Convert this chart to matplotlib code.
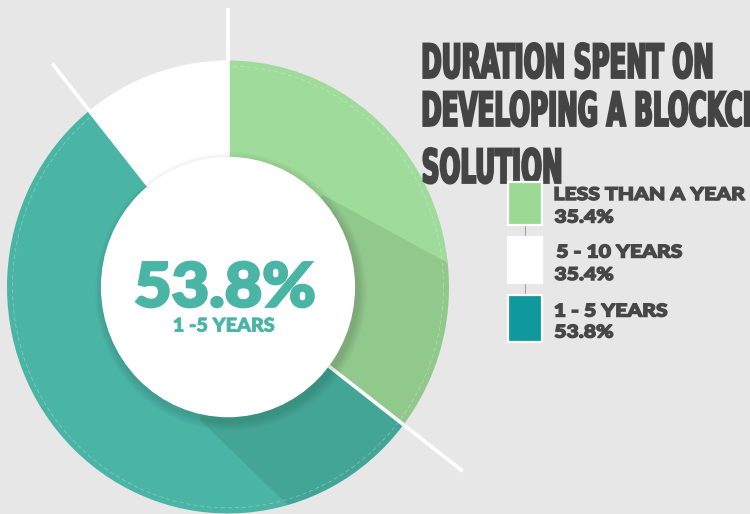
"""Ring chart: how long teams spend building a blockchain solution."""

import matplotlib

matplotlib.use("Agg")
import matplotlib.pyplot as plt
import numpy as np
from matplotlib.font_manager import FontProperties
from matplotlib.patches import Circle, PathPatch, Polygon, Rectangle, Wedge
from matplotlib.textpath import TextPath
from matplotlib.transforms import Affine2D

# ring shares, clockwise from 12 o'clock
segments = ["LESS THAN A YEAR", "1 - 5 YEARS", "5 - 10 YEARS"]
shares = [35.4, 53.8, 10.8]

# legend entries as printed
legend_names = ["LESS THAN A YEAR", "5 - 10 YEARS", "1 - 5 YEARS"]
legend_values = [35.4, 35.4, 53.8]

highlight_value = 53.8
highlight_name = "1 -5 YEARS"
title_lines = ["DURATION SPENT ON", "DEVELOPING A BLOCKCHAIN", "SOLUTION"]

BG = "#e7e7e7"
GREEN = "#9fdb9a"
TEAL = "#4ab5a5"
TEXT = "#474747"
seg_colors = {"LESS THAN A YEAR": GREEN, "1 - 5 YEARS": TEAL, "5 - 10 YEARS": "#ffffff"}
legend_colors = {"LESS THAN A YEAR": "#9cd995", "5 - 10 YEARS": "#ffffff", "1 - 5 YEARS": "#0f999c"}

W, H = 750, 514
fig = plt.figure(figsize=(W / 100, H / 100), dpi=100, facecolor=BG)

# ring axes: unit radius, slightly taller than wide on the canvas
ring = fig.add_axes([0, 0, 1, 1])
ring.set_axis_off()
ring.set_aspect("auto")
cx, cy, rx, ry = 228, 287, 221, 226.5
ring.set_xlim(-cx / rx, (W - cx) / rx)
ring.set_ylim(-(H - cy) / ry, cy / ry)


def to_ring(px, py):
    return (px - cx) / rx, (cy - py) / ry


outer = Circle((0, 0), 1.0, transform=ring.transData)
inner_r = 0.575

theta = 90.0
bounds = [theta]
for name, share in zip(segments, shares):
    sweep = share / 100 * 360
    ring.add_patch(Wedge((0, 0), 1.0, theta - sweep, theta, facecolor=seg_colors[name],
                         edgecolor="none", zorder=1))
    theta -= sweep
    bounds.append(theta)

# long shadow thrown by the centre disc toward the lower right
p1 = to_ring(323, 195)
p1_far = to_ring(323 + 0.878 * 500, 195 + 0.479 * 500)
p2 = to_ring(200, 420)
p2_far = to_ring(200 + 0.719 * 500, 420 + 0.695 * 500)
shadow = Polygon([(0, 0), p1, p1_far, (3, -3), p2_far, p2], closed=True,
                 facecolor="black", alpha=0.085, edgecolor="none", zorder=2)
ring.add_patch(shadow)
shadow.set_clip_path(outer)

# faint dashed trim just inside the rim
tt = np.linspace(0, 2 * np.pi, 400)
ring.plot(0.975 * np.cos(tt), 0.975 * np.sin(tt), color="white", lw=0.5,
          ls=(0, (6, 4)), alpha=0.35, zorder=3)

# separators that run past the rim
ext = {90.0: 1.232, bounds[1]: 1.337, bounds[2]: 1.267}
for ang, length in ext.items():
    a = np.deg2rad(ang)
    ring.plot([inner_r * np.cos(a), length * np.cos(a)],
              [inner_r * np.sin(a), length * np.sin(a)],
              color="white", lw=2.6, solid_capstyle="butt", zorder=4)

# centre disc with a soft drop shadow
for k in range(10):
    ring.add_patch(Circle((0.012, -0.02), inner_r + 0.004 * (10 - k),
                          facecolor="black", alpha=0.012, edgecolor="none", zorder=5))
ring.add_patch(Circle((0, 0), inner_r, facecolor="white", edgecolor="none", zorder=6))

# pixel-space overlay for text and legend
top = fig.add_axes([0, 0, 1, 1])
top.set_axis_off()
top.set_xlim(0, W)
top.set_ylim(H, 0)
top.patch.set_alpha(0)

LATO = FontProperties(family="Lato", weight="black")
NARROW = FontProperties(family="Liberation Sans Narrow", weight="bold")


def outline(s, font):
    tp = TextPath((0, 0), s, size=1, prop=font)
    ext_ = tp.get_extents()
    return tp, ext_.x0, ext_.x1 - ext_.x0


def put_text(s, x, base, sx, sy, color, lw, font, align="left", z=10):
    tp, x0, w = outline(s, font)
    if align == "center":
        x = x - w * sx / 2
    tr = Affine2D().translate(-x0, 0).scale(sx, -sy).translate(x, base) + top.transData
    top.add_patch(PathPatch(tp, transform=tr, facecolor=color, edgecolor=color,
                            lw=lw, joinstyle="miter", zorder=z))


# centre figure
sy_big = 43.5 / 0.7165
sx_big = 177.0 / outline(f"{highlight_value}%", LATO)[2]
put_text(f"{highlight_value}%", 225, 306.5, sx_big, sy_big, TEAL, 2.0, LATO, "center")
sy_sub = 13.5 / 0.7165
sx_sub = 100.0 / outline(highlight_name, LATO)[2]
put_text(highlight_name, 224, 331.5, sx_sub, sy_sub, TEAL, 0.7, LATO, "center")

# condensed headline built from outlines, squeezed horizontally
sy_head = 33.5 / 0.716
sx_head = 288.0 / outline(title_lines[0], NARROW)[2]
for line, base in zip(title_lines, [77.8, 125.8, 182.8]):
    put_text(line, 423.5, base, sx_head, sy_head, "#444444", 1.6, NARROW, z=9)

# legend
boxes = [(508, 182, 34, 43), (508, 237, 34, 46), (508, 295, 34, 47)]
name_y = [200, 257.5, 316.5]
value_y = [222.5, 280, 337.5]
name_x = [555, 557, 555]
for (bx, by, bw, bh), name in zip(boxes, legend_names):
    top.add_patch(Rectangle((bx, by), bw, bh, facecolor=legend_colors[name],
                            edgecolor="white", lw=1.6, zorder=11))
for (a, b) in [(boxes[0], boxes[1]), (boxes[1], boxes[2])]:
    top.plot([525, 525], [a[1] + a[3], b[1]], color="#a0a0a0", lw=0.8, zorder=10)
sy_leg = 12.6 / 0.7165
sx_leg = 190.0 / outline(legend_names[0], LATO)[2]
for name, val, xx, ny, vy in zip(legend_names, legend_values, name_x, name_y, value_y):
    put_text(name, xx, ny, sx_leg, sy_leg, TEXT, 1.05, LATO, z=12)
    put_text(f"{val}%", 555, vy, sx_leg, sy_leg, TEXT, 1.05, LATO, z=12)

fig.savefig("out.png", dpi=100, facecolor=BG)
